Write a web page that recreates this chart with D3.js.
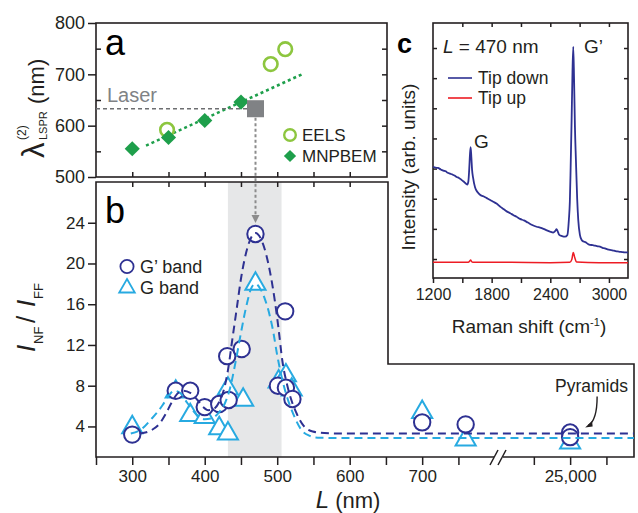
<!DOCTYPE html>
<html>
<head>
<meta charset="utf-8">
<script src="https://cdn.jsdelivr.net/npm/d3@7"></script>
<style>
body { margin: 0; background: #fff; }
svg { font-family: "Liberation Sans", Arial, Helvetica, sans-serif; }
.axis text { fill: #231f20; }
.axis line { stroke: #231f20; stroke-width: 1.5; }
</style>
</head>
<body>
<svg id="fig" width="638" height="513"></svg>
<script>
// ---- panel a : LSPR wavelength vs L
var mnpbemL = [300, 350, 400, 450];
var mnpbemLambda = [555, 577, 610, 646];
var eelsL = [348, 491, 511];
var eelsLambda = [592, 720, 749];
var fitAL = [319, 534];
var fitALambda = [561, 700];
var laserL = 470, laserLambda = 633;

// ---- panel b : enhancement I_NF / I_FF
var gpL = [300, 360, 380, 400, 420, 433, 431, 451, 470, 511, 501, 512, 521, 700, 760, 25000, 25000];
var gpV = [3.2, 7.5, 7.5, 5.9, 6.2, 6.6, 10.9, 11.6, 22.9, 15.3, 8.0, 7.8, 6.7, 4.4, 4.2, 3.4, 2.95];
var gL = [300, 360, 380, 400, 420, 432, 432, 453, 470, 502, 512, 520, 700, 760, 25000];
var gV = [3.9, 7.4, 5.1, 4.9, 3.8, 3.3, 7.7, 6.6, 18.0, 8.4, 9.0, 7.6, 5.4, 2.7, 2.4];
var gpFitL = [310, 318, 328, 338, 346, 354, 362, 370, 380, 390, 398, 405, 412, 420, 426, 432, 438, 444, 450, 460, 470, 480, 490, 497, 502, 507, 514, 520, 526, 535, 549, 565, 600, 25088];
var gpFitV = [3.3, 3.4, 3.7, 4.3, 5.2, 6.3, 7.2, 7.5, 7.3, 6.6, 5.9, 5.6, 5.7, 6.4, 7.5, 9.5, 12.5, 15.5, 18.5, 21.8, 23.0, 22.0, 19.2, 16.2, 13.5, 10.5, 8.0, 6.5, 5.4, 4.2, 3.5, 3.35, 3.3, 3.3];
var gFitL = [298, 314, 326, 342, 350, 358, 366, 376, 388, 400, 410, 420, 428, 434, 443, 450, 458, 465, 470, 476, 483, 490, 494, 500, 507, 514, 520, 526, 533, 544, 556, 600, 25088];
var gFitV = [3.3, 3.8, 4.7, 6.1, 7.0, 7.5, 7.3, 6.3, 5.2, 4.7, 4.8, 5.4, 6.3, 7.5, 10.5, 13.2, 16.0, 17.7, 18.0, 17.6, 16.5, 14.8, 13.5, 11.0, 8.6, 6.8, 5.6, 4.6, 3.7, 3.1, 2.9, 2.86, 2.86];
var bandL = [432, 506];
var xTicksB = [250, 300, 350, 400, 450, 500, 550, 600, 650, 700, 750, 24950, 25000, 25050];
var xLabelsB = [300, 400, 500, 600, 700, 25000];

// ---- panel c : Raman spectra at L = 470 nm
var downShift = [1200, 1225, 1250, 1280, 1306, 1330, 1350, 1375, 1400, 1420, 1442, 1465, 1490, 1510, 1527, 1540, 1551, 1562, 1570, 1578, 1585, 1592, 1600, 1610, 1630, 1655, 1681, 1715, 1750, 1785, 1817, 1850, 1890, 1920, 1954, 1990, 2020, 2055, 2090, 2130, 2170, 2215, 2260, 2295, 2330, 2365, 2397, 2430, 2450, 2465, 2480, 2492, 2520, 2550, 2575, 2590, 2600, 2608, 2618, 2627, 2635, 2643, 2652, 2662, 2675, 2686, 2703, 2721, 2740, 2760, 2785, 2806, 2835, 2860, 2885, 2908, 2935, 2960, 2985, 3010, 3035, 3060, 3085, 3110, 3135, 3160, 3180, 3195];
var downInt = [3.06, 3.03, 3.02, 2.97, 2.93, 2.91, 2.86, 2.83, 2.80, 2.77, 2.72, 2.69, 2.63, 2.58, 2.53, 2.49, 2.47, 2.58, 2.95, 3.45, 3.71, 3.40, 2.95, 2.70, 2.38, 2.22, 2.13, 2.08, 2.02, 1.96, 1.90, 1.84, 1.73, 1.66, 1.58, 1.52, 1.46, 1.40, 1.33, 1.28, 1.21, 1.13, 1.07, 1.04, 1.00, 0.95, 0.91, 0.88, 0.93, 0.99, 0.88, 0.80, 0.76, 0.74, 0.80, 1.30, 1.90, 3.00, 4.60, 6.20, 7.04, 6.00, 4.40, 3.30, 2.00, 1.30, 0.80, 0.63, 0.58, 0.56, 0.50, 0.47, 0.46, 0.44, 0.42, 0.41, 0.37, 0.35, 0.32, 0.30, 0.29, 0.27, 0.25, 0.24, 0.23, 0.22, 0.22, 0.21];
var upShift = [1200, 1400, 1560, 1578, 1585, 1592, 1610, 2000, 2400, 2600, 2620, 2635, 2650, 2670, 2900, 3195];
var upInt = [-0.11, -0.11, -0.11, -0.06, -0.03, -0.07, -0.11, -0.11, -0.12, -0.11, -0.02, 0.22, 0.05, -0.10, -0.12, -0.12];

var ink = "#231f20", navy = "#2e3192", cyan = "#27aae1", green = "#1e9f4b", lime = "#8dc63f", red = "#ed1c24";
var svg = d3.select("#fig");

function zip(a, b) { return a.map(function(d, i) { return [d, b[i]]; }); }
function noDomain(g) { g.select(".domain").remove(); }

// scales
var xA = d3.scaleLinear().domain([250, 650]).range([96, 386]);
var yA = d3.scaleLinear().domain([500, 800]).range([177, 23]);
var xB = d3.scaleLinear().domain([250, 806, 24902, 25088]).range([96, 499, 499, 634]);
var yB = d3.scaleLinear().domain([1, 28]).range([457, 182]);
var xC = d3.scaleLinear().domain([1200, 3195]).range([433, 628]);
var yC = d3.scaleLinear().domain([-0.63, 7.83]).range([278, 23]);

// ================= panel b background
svg.append("rect")
  .attr("x", xB(bandL[0])).attr("y", 182)
  .attr("width", xB(bandL[1]) - xB(bandL[0])).attr("height", 275)
  .attr("fill", "#e6e7e8");

// frames
svg.append("rect").attr("x", 96).attr("y", 23).attr("width", 291).attr("height", 154)
  .attr("fill", "none").attr("stroke", ink).attr("stroke-width", 1.6);
svg.append("path").attr("d", "M96,182H388V364H634V457H96Z")
  .attr("fill", "none").attr("stroke", ink).attr("stroke-width", 1.6);
svg.append("rect").attr("x", 433).attr("y", 23).attr("width", 195).attr("height", 255)
  .attr("fill", "none").attr("stroke", ink).attr("stroke-width", 1.6);

// ================= panel a axes
svg.append("g").attr("class", "axis").attr("transform", "translate(96,0)")
  .style("font-size", "18px")
  .call(d3.axisLeft(yA).tickValues([500, 600, 700, 800]).tickSize(8).tickPadding(3)).call(noDomain);
svg.append("g").attr("class", "axis").attr("transform", "translate(96,0)")
  .call(d3.axisLeft(yA).tickValues([550, 650, 750]).tickSize(-5).tickFormat("")).call(noDomain);
svg.append("g").attr("class", "axis").attr("transform", "translate(387,0)")
  .call(d3.axisRight(yA).tickValues([550, 600, 650, 700, 750]).tickSize(-5).tickFormat("")).call(noDomain);
svg.append("g").attr("class", "axis").attr("transform", "translate(0,177)")
  .call(d3.axisBottom(xA).tickValues(d3.range(300, 650, 50)).tickSize(-5).tickFormat("")).call(noDomain);

// ================= panel b axes
svg.append("g").attr("class", "axis").attr("transform", "translate(96,0)")
  .style("font-size", "17px")
  .call(d3.axisLeft(yB).tickValues([4, 8, 12, 16, 20, 24]).tickSize(8).tickPadding(3)).call(noDomain);
svg.append("g").attr("class", "axis").attr("transform", "translate(0,182)")
  .call(d3.axisTop(xB).tickValues(d3.range(300, 650, 50)).tickSize(-5).tickFormat("")).call(noDomain);
svg.append("g").attr("class", "axis").attr("transform", "translate(0,457)")
  .style("font-size", "17px")
  .call(d3.axisBottom(xB).tickValues(xTicksB).tickSize(8).tickPadding(5)
    .tickFormat(function(d) { return xLabelsB.indexOf(d) >= 0 ? d3.format(",")(d) : ""; }))
  .call(noDomain);

// axis break
var bx = xB(806);
svg.append("rect").attr("x", bx - 5).attr("y", 454).attr("width", 9).attr("height", 6).attr("fill", "#fff");
[-4, 4].forEach(function(o) {
  svg.append("line").attr("x1", bx + o - 5).attr("y1", 465).attr("x2", bx + o + 3).attr("y2", 450)
    .attr("stroke", ink).attr("stroke-width", 1.5);
});

// ================= panel c axes
svg.append("g").attr("class", "axis").attr("transform", "translate(0,278)")
  .style("font-size", "16px")
  .call(d3.axisBottom(xC).tickValues(d3.range(1200, 3001, 300)).tickSize(5).tickPadding(6)
    .tickFormat(function(d) { return (d - 1200) % 600 === 0 ? d : ""; }))
  .call(noDomain);
svg.append("g").attr("class", "axis").attr("transform", "translate(0,23)")
  .call(d3.axisTop(xC).tickValues(d3.range(1500, 3001, 300)).tickSize(-4).tickFormat("")).call(noDomain);
svg.append("g").attr("class", "axis").attr("transform", "translate(433,0)")
  .call(d3.axisLeft(yC).tickValues(d3.range(0, 8)).tickSize(-4).tickFormat("")).call(noDomain);
svg.append("g").attr("class", "axis").attr("transform", "translate(628,0)")
  .call(d3.axisRight(yC).tickValues(d3.range(0, 8)).tickSize(-4).tickFormat("")).call(noDomain);

// ================= panel a marks
var lineA = d3.line().x(function(d) { return xA(d[0]); }).y(function(d) { return yA(d[1]); });
svg.append("path").datum(zip(fitAL, fitALambda)).attr("d", lineA)
  .attr("fill", "none").attr("stroke", green).attr("stroke-width", 2.5).attr("stroke-dasharray", "3,3");
svg.append("line")
  .attr("x1", 96).attr("x2", xA(laserL) - 8)
  .attr("y1", yA(laserLambda)).attr("y2", yA(laserLambda))
  .attr("stroke", "#6d6e71").attr("stroke-width", 1.5).attr("stroke-dasharray", "4,3");
svg.selectAll(".eels").data(zip(eelsL, eelsLambda)).enter().append("circle")
  .attr("cx", function(d) { return xA(d[0]); }).attr("cy", function(d) { return yA(d[1]); })
  .attr("r", 6.8).attr("fill", "none").attr("stroke", lime).attr("stroke-width", 2.6);
svg.selectAll(".mnp").data(zip(mnpbemL, mnpbemLambda)).enter().append("path")
  .attr("d", d3.symbol(d3.symbolSquare, 115))
  .attr("transform", function(d) { return "translate(" + xA(d[0]) + "," + yA(d[1]) + ") rotate(45)"; })
  .attr("fill", green);
svg.append("path").attr("d", d3.symbol(d3.symbolSquare, 290))
  .attr("transform", "translate(" + xA(laserL) + "," + yA(laserLambda) + ")")
  .attr("fill", "#808285");

// arrow from laser square to panel b peak
var ax = xA(laserL), arrowEnd = yB(gpV[8]) - 11;
svg.append("line").attr("x1", ax).attr("x2", ax)
  .attr("y1", yA(laserLambda) + 9).attr("y2", arrowEnd - 6)
  .attr("stroke", "#8c8c8c").attr("stroke-width", 2).attr("stroke-dasharray", "3,2.5");
svg.append("path").attr("d", "M" + (ax - 4) + "," + (arrowEnd - 8) + "L" + (ax + 4) + "," + (arrowEnd - 8) + "L" + ax + "," + arrowEnd + "Z")
  .attr("fill", "#8c8c8c");

// legend a
svg.append("circle").attr("cx", 290).attr("cy", 135).attr("r", 5.8)
  .attr("fill", "none").attr("stroke", lime).attr("stroke-width", 2.4);
svg.append("path").attr("d", d3.symbol(d3.symbolSquare, 75))
  .attr("transform", "translate(290,156) rotate(45)").attr("fill", green);
svg.append("text").attr("x", 302).attr("y", 141).style("font-size", "17px").attr("fill", ink).text("EELS");
svg.append("text").attr("x", 302).attr("y", 162).style("font-size", "17px").attr("fill", ink).text("MNPBEM");
svg.append("text").attr("x", 107).attr("y", 102).style("font-size", "20px").attr("fill", "#808285").text("Laser");

// ================= panel b marks
var tri = d3.symbol(d3.symbolTriangle, 175);
svg.selectAll(".gb").data(zip(gL, gV)).enter().append("path")
  .attr("d", tri)
  .attr("transform", function(d) { return "translate(" + xB(d[0]) + "," + yB(d[1]) + ")"; })
  .attr("fill", "#fff").attr("stroke", cyan).attr("stroke-width", 2);
svg.selectAll(".gp").data(zip(gpL, gpV)).enter().append("circle")
  .attr("cx", function(d) { return xB(d[0]); }).attr("cy", function(d) { return yB(d[1]); })
  .attr("r", 8.2).attr("fill", "#fff").attr("stroke", navy).attr("stroke-width", 2);
var lineB = d3.line().x(function(d) { return xB(d[0]); }).y(function(d) { return yB(d[1]); }).curve(d3.curveMonotoneX);
svg.append("path").datum(zip(gFitL, gFitV)).attr("d", lineB)
  .attr("fill", "none").attr("stroke", cyan).attr("stroke-width", 2).attr("stroke-dasharray", "8,5");
svg.append("path").datum(zip(gpFitL, gpFitV)).attr("d", lineB)
  .attr("fill", "none").attr("stroke", navy).attr("stroke-width", 2).attr("stroke-dasharray", "8,5");

// legend b
svg.append("circle").attr("cx", 127).attr("cy", 266.5).attr("r", 6.6)
  .attr("fill", "#fff").attr("stroke", navy).attr("stroke-width", 1.8);
svg.append("path").attr("d", d3.symbol(d3.symbolTriangle, 105))
  .attr("transform", "translate(127,288)").attr("fill", "#fff").attr("stroke", cyan).attr("stroke-width", 1.8);
svg.append("text").attr("x", 140).attr("y", 273).style("font-size", "18px").attr("fill", ink).text("G\u2019 band");
svg.append("text").attr("x", 140).attr("y", 294).style("font-size", "18px").attr("fill", ink).text("G band");

// pyramids annotation
var px = xB(25000), py = yB(gpV[15]);
svg.append("text").attr("x", 555).attr("y", 392).style("font-size", "17.5px").attr("fill", ink).text("Pyramids");
svg.append("path")
  .attr("d", "M" + (px + 27) + "," + (py - 36) + "Q" + (px + 27) + "," + (py - 12) + " " + (px + 18) + "," + (py - 7))
  .attr("fill", "none").attr("stroke", ink).attr("stroke-width", 1.4);
svg.append("path")
  .attr("d", "M" + (px + 15) + "," + (py - 5) + "l7,-6.5l0.5,5.5Z").attr("fill", ink);

// ================= panel c spectra
var lineC = d3.line().x(function(d) { return xC(d[0]); }).y(function(d) { return yC(d[1]); }).curve(d3.curveMonotoneX);
svg.append("path").datum(zip(upShift, upInt)).attr("d", lineC)
  .attr("fill", "none").attr("stroke", red).attr("stroke-width", 1.5);
svg.append("path").datum(zip(downShift, downInt)).attr("d", lineC)
  .attr("fill", "none").attr("stroke", navy).attr("stroke-width", 1.8);

// legend c
svg.append("line").attr("x1", 448).attr("x2", 472).attr("y1", 78).attr("y2", 78).attr("stroke", navy).attr("stroke-width", 1.6);
svg.append("line").attr("x1", 448).attr("x2", 472).attr("y1", 98).attr("y2", 98).attr("stroke", red).attr("stroke-width", 1.6);
svg.append("text").attr("x", 478).attr("y", 84).style("font-size", "17.5px").attr("fill", ink).text("Tip down");
svg.append("text").attr("x", 478).attr("y", 104).style("font-size", "17.5px").attr("fill", ink).text("Tip up");
var lt = svg.append("text").attr("x", 443).attr("y", 53).style("font-size", "19px").attr("fill", ink);
lt.append("tspan").style("font-style", "italic").text("L");
lt.append("tspan").text(" = 470 nm");
svg.append("text").attr("x", 474).attr("y", 148).style("font-size", "19px").attr("fill", ink).text("G");
svg.append("text").attr("x", 584).attr("y", 53).style("font-size", "19px").attr("fill", ink).text("G\u2019");

// ================= panel letters
svg.append("text").attr("x", 105).attr("y", 55).style("font-size", "36px").attr("fill", "#000").text("a");
svg.append("text").attr("x", 105).attr("y", 223).style("font-size", "36px").attr("fill", "#000").text("b");
svg.append("text").attr("x", 397).attr("y", 53).style("font-size", "27px").style("font-weight", "bold").attr("fill", "#000").text("c");

// ================= axis titles
var ya = svg.append("g").attr("transform", "translate(44,158) rotate(-90)");
ya.append("text").attr("x", 0).attr("y", 0).style("font-size", "31px").attr("fill", ink).text("\u03bb");
ya.append("text").attr("x", 18).attr("y", -18).style("font-size", "12px").attr("fill", ink).text("(2)");
ya.append("text").attr("x", 18).attr("y", 3).style("font-size", "11px").attr("fill", ink).text("LSPR");
ya.append("text").attr("x", 54).attr("y", 0).style("font-size", "22px").attr("fill", ink).text("(nm)");

var yb = svg.append("g").attr("transform", "translate(35,352) rotate(-90)");
yb.append("text").attr("x", 0).attr("y", 0).style("font-size", "26px").style("font-style", "italic").attr("fill", ink).text("I");
yb.append("text").attr("x", 8).attr("y", 8).style("font-size", "13px").attr("fill", ink).text("NF");
yb.append("text").attr("x", 29).attr("y", 0).style("font-size", "26px").attr("fill", ink).text("/");
yb.append("text").attr("x", 45).attr("y", 0).style("font-size", "26px").style("font-style", "italic").attr("fill", ink).text("I");
yb.append("text").attr("x", 53).attr("y", 8).style("font-size", "13px").attr("fill", ink).text("FF");

var xt = svg.append("text").attr("x", 348).attr("y", 508).attr("text-anchor", "middle").style("font-size", "22px").attr("fill", ink);
xt.append("tspan").style("font-style", "italic").style("font-size", "24px").text("L");
xt.append("tspan").text(" (nm)");

var xc = svg.append("text").attr("x", 529).attr("y", 333).attr("text-anchor", "middle").style("font-size", "19px").attr("fill", ink);
xc.append("tspan").text("Raman shift (cm");
xc.append("tspan").attr("dy", -7).style("font-size", "11px").text("-1");
xc.append("tspan").attr("dy", 7).text(")");

svg.append("text").attr("transform", "translate(415,167) rotate(-90)").attr("text-anchor", "middle")
  .style("font-size", "19px").attr("fill", ink).text("Intensity (arb. units)");
</script>
</body>
</html>
